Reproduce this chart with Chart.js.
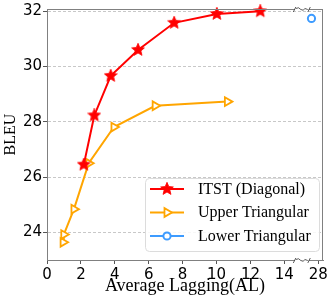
<!DOCTYPE html>
<html><head><meta charset="utf-8">
<script src="https://cdn.jsdelivr.net/npm/chart.js@4.4.1/dist/chart.umd.min.js"></script>
<style>html,body{margin:0;padding:0;background:#fff;}</style>
</head><body>
<canvas id="c" width="332" height="303"></canvas>
<script>
// ---- data ----
const seriesNames = ['ITST (Diagonal)', 'Upper Triangular', 'Lower Triangular'];
const itstAL   = [2.17, 2.79, 3.76, 5.37, 7.50, 10.02, 12.58];
const itstBLEU = [26.45, 28.23, 29.66, 30.60, 31.58, 31.90, 32.00];
const upperAL   = [0.95, 0.99, 1.59, 2.46, 3.95, 6.38, 10.64];
const upperBLEU = [23.64, 23.92, 24.84, 26.50, 27.81, 28.58, 28.73];
const lowerAL   = [27.6];
const lowerBLEU = [31.74];
const xTickValues = [0, 2, 4, 6, 8, 10, 12, 14, 28];
const yTickValues = [24, 26, 28, 30, 32];

// broken x axis: values above 15 are shifted next to the break
const BREAK_FROM = 15, RIGHT_BASE = 28, RIGHT_POS = 16;
function toAxis(v) { return v <= BREAK_FROM ? v : RIGHT_POS + (v - RIGHT_BASE); }
const pts = (xs, ys) => xs.map((x, i) => ({x: toAxis(x), y: ys[i]}));

const RED = '#ff0000', ORANGE = '#ffa500', BLUE = '#3d9bff', AXIS = '#808080';

// filled 5-point star marker
function makeStar(size, color) {
  const c = document.createElement('canvas');
  c.width = size; c.height = size;
  const g = c.getContext('2d');
  const cx = size / 2, cy = size / 2, R = size / 2 - 0.3, r = R * 0.45;
  g.beginPath();
  for (let i = 0; i < 10; i++) {
    const rad = (i % 2 === 0) ? R : r;
    const a = -Math.PI / 2 + i * Math.PI / 5;
    g.lineTo(cx + rad * Math.cos(a), cy + rad * Math.sin(a));
  }
  g.closePath();
  g.fillStyle = color; g.fill();
  g.lineWidth = 0.8; g.strokeStyle = color; g.stroke();
  return c;
}
const starImg = makeStar(14, RED);

const extras = {
  id: 'extras',
  afterDraw(chart) {
    const {ctx, chartArea: a} = chart;
    ctx.save();
    // top and right borders
    ctx.strokeStyle = AXIS; ctx.lineWidth = 1;
    ctx.beginPath();
    ctx.moveTo(a.left, a.top + 0.5); ctx.lineTo(a.right, a.top + 0.5);
    ctx.moveTo(a.right - 0.5, a.top); ctx.lineTo(a.right - 0.5, a.bottom);
    ctx.stroke();
    // break marks
    const xs = chart.scales.x;
    const bx = (xs.getPixelForValue(14) + xs.getPixelForValue(RIGHT_POS)) / 2 + 0.5;
    [a.top + 0.5, a.bottom + 0.5].forEach(y => {
      ctx.fillStyle = '#fff';
      ctx.fillRect(bx - 7, y - 1.5, 14, 3);
      ctx.strokeStyle = '#333'; ctx.lineWidth = 0.8;
      ctx.beginPath();
      ctx.moveTo(bx - 8.5, y + 2.5); ctx.lineTo(bx - 6, y - 2.5);
      ctx.moveTo(bx + 6, y + 2.5); ctx.lineTo(bx + 8.5, y - 2.5);
      ctx.stroke();
      ctx.beginPath();
      ctx.moveTo(bx - 6, y - 1);
      ctx.quadraticCurveTo(bx - 3, y - 3, bx - 1, y);
      ctx.quadraticCurveTo(bx + 2, y + 2, bx + 3, y - 1);
      ctx.lineTo(bx + 6, y);
      ctx.stroke();
    });
    // legend
    const L = 145, T = 178, W = 174, H = 73;
    ctx.beginPath();
    ctx.roundRect(L + 0.5, T + 0.5, W, H, 4);
    ctx.fillStyle = 'rgba(255,255,255,0.85)'; ctx.fill();
    ctx.strokeStyle = '#dcdcdc'; ctx.lineWidth = 1; ctx.stroke();
    const rows = [189, 212.5, 236];
    const ds = chart.data.datasets;
    ctx.font = '16px "Liberation Serif"';
    ctx.textBaseline = 'middle'; ctx.textAlign = 'left';
    rows.forEach((ry, i) => {
      const d = ds[i];
      ctx.strokeStyle = d.borderColor; ctx.lineWidth = 2;
      ctx.beginPath(); ctx.moveTo(150, ry); ctx.lineTo(184, ry); ctx.stroke();
      const mx = 167;
      if (i === 0) {
        ctx.drawImage(starImg, mx - 7, ry - 7);
      } else if (i === 1) {
        ctx.beginPath();
        const r = 5;
        ctx.moveTo(mx + r, ry);
        ctx.lineTo(mx - r / 2, ry - r * 0.866);
        ctx.lineTo(mx - r / 2, ry + r * 0.866);
        ctx.closePath();
        ctx.fillStyle = '#fff'; ctx.fill();
        ctx.lineWidth = 1.8; ctx.strokeStyle = ORANGE; ctx.stroke();
      } else {
        ctx.beginPath(); ctx.arc(mx, ry, 3.6, 0, Math.PI * 2);
        ctx.fillStyle = '#fff'; ctx.fill();
        ctx.lineWidth = 2; ctx.strokeStyle = BLUE; ctx.stroke();
      }
      ctx.fillStyle = '#000';
      ctx.fillText(seriesNames[i], 198, ry + 0.5);
    });
    ctx.restore();
  }
};

new Chart(document.getElementById('c'), {
  type: 'line',
  data: {
    datasets: [
      {label: seriesNames[0], data: pts(itstAL, itstBLEU), borderColor: RED, borderWidth: 2,
       pointStyle: starImg, pointRadius: 7, clip: false, tension: 0},
      {label: seriesNames[1], data: pts(upperAL, upperBLEU), borderColor: ORANGE, borderWidth: 2,
       pointStyle: 'triangle', pointRotation: 90, pointRadius: 5, pointBorderWidth: 1.8,
       pointBackgroundColor: '#fff', pointBorderColor: ORANGE, clip: false, tension: 0},
      {label: seriesNames[2], data: pts(lowerAL, lowerBLEU), borderColor: BLUE, borderWidth: 2,
       showLine: false, pointStyle: 'circle', pointRadius: 3.6, pointBorderWidth: 2,
       pointBackgroundColor: '#fff', pointBorderColor: BLUE, clip: false}
    ]
  },
  options: {
    responsive: false, animation: false, devicePixelRatio: 1,
    layout: {padding: {top: 6, right: 5, left: 0, bottom: 0}},
    plugins: {legend: {display: false}, tooltip: {enabled: false}},
    scales: {
      x: {
        type: 'linear', min: 0, max: 16.28,
        afterFit(s) { s.height = 43; s.paddingLeft = 0; s.paddingRight = 0; },
        afterBuildTicks(s) { s.ticks = xTickValues.map(v => ({value: toAxis(v)})); },
        ticks: {
          font: {family: 'DejaVu Sans', size: 15}, color: '#000', padding: 2, maxRotation: 0,
          autoSkip: false,
          callback(val) { const v = xTickValues.find(t => toAxis(t) === val); return v === undefined ? '' : String(v); }
        },
        grid: {drawOnChartArea: false, drawTicks: true, tickLength: 4, tickColor: '#555', tickWidth: 1},
        border: {display: true, color: AXIS, width: 1},
        title: {display: true, text: 'Average Lagging(AL)', color: '#000',
                font: {family: 'Liberation Serif', size: 18}, padding: {top: 0, bottom: 6}}
      },
      y: {
        type: 'linear', min: 23.0, max: 32.08,
        afterFit(s) { s.width = 47; s.paddingTop = 0; s.paddingBottom = 0; },
        afterBuildTicks(s) { s.ticks = yTickValues.map(v => ({value: v})); },
        ticks: {font: {family: 'DejaVu Sans', size: 15}, color: '#000', padding: 1},
        grid: {drawOnChartArea: true, color: '#c8c8c8', lineWidth: 1, drawTicks: true,
               tickLength: 4, tickColor: '#555', tickWidth: 1, tickBorderDash: []},
        border: {display: true, color: AXIS, width: 1, dash: [3, 2]},
        title: {display: true, text: 'BLEU', color: '#000',
                font: {family: 'Liberation Serif', size: 16}, padding: {top: 1, bottom: 0}}
      }
    }
  },
  plugins: [extras]
});
</script>
</body></html>
